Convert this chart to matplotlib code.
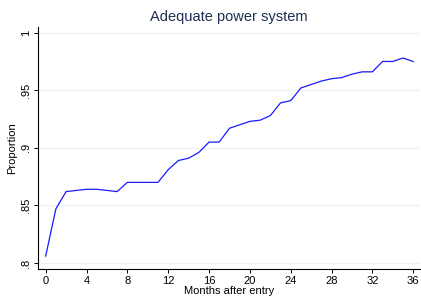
import matplotlib
matplotlib.use("Agg")
import matplotlib.pyplot as plt

# Data
months = list(range(0, 37))
proportion = [0.806, 0.847, 0.862, 0.863, 0.864, 0.864, 0.863, 0.862, 0.870, 0.870,
              0.870, 0.870, 0.881, 0.889, 0.891, 0.896, 0.905, 0.905, 0.917, 0.920,
              0.923, 0.924, 0.928, 0.939, 0.941, 0.952, 0.955, 0.958, 0.960, 0.961,
              0.964, 0.966, 0.966, 0.975, 0.975, 0.978, 0.975]
x_ticks = [0, 4, 8, 12, 16, 20, 24, 28, 32, 36]
y_ticks = [0.8, 0.85, 0.9, 0.95, 1.0]
y_labels = [".8", ".85", ".9", ".95", "1"]

plt.rcParams['font.family'] = ['Liberation Sans', 'DejaVu Sans']

fig = plt.figure(figsize=(4.21, 3.06), dpi=100)
ax = fig.add_axes([0.0903, 0.121, 0.907, 0.791])

ax.plot(months, proportion, color="#1a1aff", linewidth=0.9)

ax.set_xlim(-0.75, 36.65)
ax.set_ylim(0.7948, 1.005)
ax.set_xticks(x_ticks)
ax.set_yticks(y_ticks)
ax.set_yticklabels(y_labels, rotation=90, va="center")
ax.tick_params(labelsize=8, length=3, width=0.7, pad=2, colors="black")
ax.grid(axis="y", color="#eaf2f3", linewidth=0.9)
ax.set_axisbelow(True)

for side in ["top", "right"]:
    ax.spines[side].set_visible(False)
ax.spines["left"].set_linewidth(0.8)
ax.spines["bottom"].set_linewidth(0.8)

ax.set_title("Adequate power system", fontsize=10.5, color="#1e2d53", pad=4)
ax.set_xlabel("Months after entry", fontsize=8, labelpad=0)
ax.set_ylabel("Proportion", fontsize=8, labelpad=3)

fig.savefig("out.png", dpi=100)
